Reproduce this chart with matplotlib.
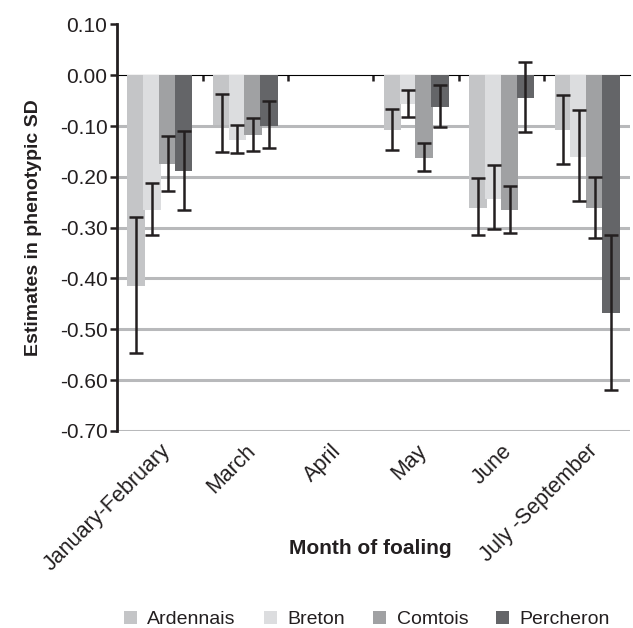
import matplotlib
matplotlib.use("Agg")
import matplotlib.pyplot as plt
import numpy as np

plt.rcParams['font.family'] = ['Liberation Sans', 'DejaVu Sans']

months = ["January-February", "March", "April", "May", "June", "July -September"]
breeds = ["Ardennais", "Breton", "Comtois", "Percheron"]
colors = ["#c4c5c7", "#dcdddf", "#a0a1a3", "#646568"]

# estimates (NaN = not shown, April reference)
ardennais = [-0.415, -0.097, np.nan, -0.108, -0.261, -0.108]
breton    = [-0.265, -0.127, np.nan, -0.057, -0.243, -0.160]
comtois   = [-0.175, -0.118, np.nan, -0.162, -0.265, -0.262]
percheron = [-0.188, -0.100, np.nan, -0.062, -0.044, -0.469]

ard_lo = [-0.547, -0.151, np.nan, -0.147, -0.314, -0.175]
ard_hi = [-0.279, -0.037, np.nan, -0.067, -0.203, -0.039]
bre_lo = [-0.315, -0.154, np.nan, -0.083, -0.303, -0.247]
bre_hi = [-0.213, -0.097, np.nan, -0.028, -0.177, -0.068]
com_lo = [-0.228, -0.149, np.nan, -0.188, -0.310, -0.320]
com_hi = [-0.120, -0.085, np.nan, -0.134, -0.218, -0.200]
per_lo = [-0.265, -0.144, np.nan, -0.101, -0.112, -0.620]
per_hi = [-0.110, -0.051, np.nan, -0.020, 0.026, -0.315]

yticks = [0.10, 0.00, -0.10, -0.20, -0.30, -0.40, -0.50, -0.60, -0.70]

series = [ardennais, breton, comtois, percheron]
lows = [ard_lo, bre_lo, com_lo, per_lo]
highs = [ard_hi, bre_hi, com_hi, per_hi]

fig = plt.figure(figsize=(6.33, 6.28), dpi=100)
ax = fig.add_axes([0.185, 0.314, 0.81, 0.647])

x = np.arange(len(months))
step = 0.185
width = 0.205
offsets = (np.arange(4) - 1.5) * step

for v in yticks:
    if v < -0.001:
        ax.axhline(v, color="#b8b9bb", lw=2.2, zorder=0)

for i, (vals, lo, hi, c, name) in enumerate(zip(series, lows, highs, colors, breeds)):
    vals = np.array(vals, dtype=float)
    lo = np.array(lo, dtype=float)
    hi = np.array(hi, dtype=float)
    xp = x + offsets[i]
    ax.bar(xp, vals, width=width, color=c, label=name, zorder=2, linewidth=0)
    ax.errorbar(xp, (lo + hi) / 2, yerr=(hi - lo) / 2, fmt='none', ecolor="#231f20",
                elinewidth=1.8, capsize=5, capthick=1.8, zorder=3)

ax.set_xlim(-0.5, 5.5)
ax.set_ylim(-0.70, 0.10)
ax.set_yticks(yticks)
ax.set_yticklabels([f"{v:.2f}" for v in yticks], fontsize=15, color="#231f20")
ax.set_xticks(x)
ax.set_xticklabels(months, rotation=45, ha='right', rotation_mode='anchor', fontsize=15.5,
                   color="#231f20")
ax.tick_params(axis='x', length=0, pad=7)
ax.tick_params(axis='y', direction='out', length=5, width=1.8, color="#231f20", pad=2)

for s in ['top', 'right', 'bottom']:
    ax.spines[s].set_visible(False)
ax.spines['left'].set_linewidth(2)
ax.spines['left'].set_color("#231f20")

# zero axis line with small ticks between groups
sec = ax.secondary_xaxis(0.875)
sec.set_xticks(np.arange(0.5, 5.5, 1.0))
sec.set_xticklabels([])
sec.tick_params(direction='in', length=4, width=1.8, color="#231f20")
sec.spines['bottom'].set_linewidth(2.2)
sec.spines['bottom'].set_color("#231f20")
sec.spines['bottom'].set_zorder(4)

ax.set_ylabel("Estimates in phenotypic SD", fontsize=14, fontweight='bold', labelpad=13,
              color="#231f20")
fig.text(0.585, 0.127, "Month of foaling", fontsize=15, fontweight='bold', color="#231f20",
         ha='center', va='center')

fig.legend(loc='lower center', bbox_to_anchor=(0.580, -0.028), ncol=4, frameon=False,
           fontsize=14, handlelength=0.65, handleheight=0.65, handletextpad=0.55, columnspacing=1.45,
           labelcolor="#231f20")

fig.savefig("out.png", dpi=100)
